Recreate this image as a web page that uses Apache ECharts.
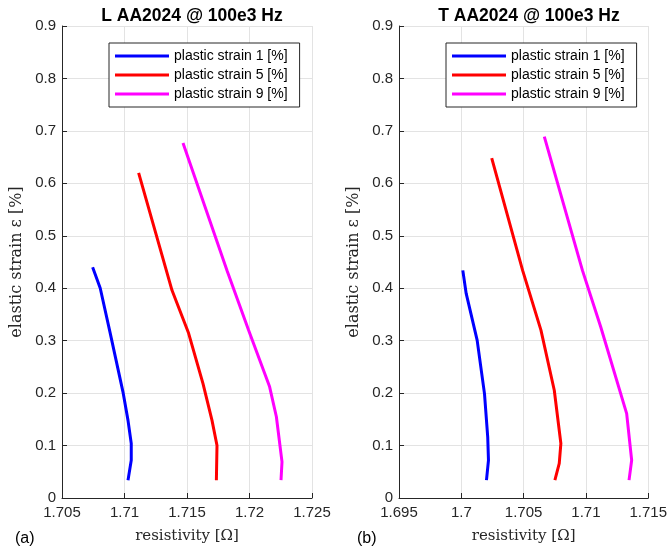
<!DOCTYPE html>
<html>
<head>
<meta charset="utf-8">
<script src="https://cdn.jsdelivr.net/npm/echarts@6/dist/echarts.min.js"></script>
<style>html,body{margin:0;padding:0;background:#fff}#c{width:670px;height:554px}</style>
</head>
<body>
<div id="c"></div>
<script>
const seriesNames = ['plastic strain 1 [%]', 'plastic strain 5 [%]', 'plastic strain 9 [%]'];
const titles = ['L AA2024 @ 100e3 Hz', 'T AA2024 @ 100e3 Hz'];
const panelTags = ['(a)', '(b)'];
const yTicks = [0, 0.9, 0.1];
const xRangeL = [1.705, 1.725];
const xRangeT = [1.695, 1.715];

// L panel
const L1_res = [1.71028, 1.71054, 1.71054, 1.71028, 1.70988, 1.70886, 1.70806, 1.70745];
const L1_eps = [0.034, 0.072, 0.104, 0.148, 0.202, 0.314, 0.400, 0.440];
const L5_res = [1.71735, 1.71740, 1.71700, 1.71628, 1.71513, 1.71380, 1.71113];
const L5_eps = [0.034, 0.100, 0.148, 0.218, 0.314, 0.396, 0.620];
const L9_res = [1.72252, 1.72260, 1.72215, 1.72161, 1.71993, 1.71820, 1.71468];
const L9_eps = [0.034, 0.069, 0.155, 0.212, 0.320, 0.434, 0.677];
// T panel
const T1_res = [1.70202, 1.70218, 1.70212, 1.70186, 1.70127, 1.70039, 1.70012];
const T1_eps = [0.034, 0.072, 0.116, 0.199, 0.301, 0.390, 0.434];
const T5_res = [1.70751, 1.70786, 1.70799, 1.70746, 1.70639, 1.70492, 1.70244];
const T5_eps = [0.034, 0.066, 0.104, 0.2055, 0.320, 0.434, 0.648];
const T9_res = [1.71346, 1.71367, 1.71327, 1.71119, 1.70972, 1.70666];
const T9_eps = [0.034, 0.072, 0.161, 0.326, 0.434, 0.689];

const colors = ['#0000ff', '#ff0000', '#ff00ff'];
const zip = (a, b) => a.map((v, i) => [v, b[i]]);
const panels = [
  [zip(L1_res, L1_eps), zip(L5_res, L5_eps), zip(L9_res, L9_eps)],
  [zip(T1_res, T1_eps), zip(T5_res, T5_eps), zip(T9_res, T9_eps)]
];
const gridLefts = [62, 399];
const gridW = 250, gridTop = 26, gridH = 472;
const tickCol = '#262626';
const sans = '"Liberation Sans", Arial, sans-serif';
const serif = '"DejaVu Serif", serif';

const grid = [], xAxis = [], yAxis = [], series = [], title = [], legend = [], graphic = [];
[xRangeL, xRangeT].forEach((rng, p) => {
  grid.push({left: gridLefts[p], top: gridTop, width: gridW, height: gridH, containLabel: false});
  xAxis.push({
    type: 'value', gridIndex: p, min: rng[0], max: rng[1], interval: 0.005,
    name: 'resistivity [Ω]', nameLocation: 'middle', nameGap: 31,
    nameTextStyle: {fontFamily: serif, fontSize: 15, color: tickCol},
    axisLine: {show: true, lineStyle: {color: tickCol, width: 1}},
    axisTick: {show: true, inside: true, length: 5, lineStyle: {color: tickCol}},
    axisLabel: {fontFamily: sans, fontSize: 15, color: tickCol, margin: 7,
      formatter: v => String(parseFloat(v.toFixed(3)))},
    splitLine: {show: true, lineStyle: {color: '#e3e3e3', width: 1}}
  });
  yAxis.push({
    type: 'value', gridIndex: p, min: yTicks[0], max: yTicks[1], interval: yTicks[2],
    name: 'elastic strain ε [%]', nameLocation: 'middle', nameGap: 37,
    nameTextStyle: {fontFamily: serif, fontSize: 16, color: tickCol},
    axisLine: {show: true, lineStyle: {color: tickCol, width: 1}},
    axisTick: {show: true, inside: true, length: 5, lineStyle: {color: tickCol}},
    axisLabel: {fontFamily: sans, fontSize: 15, color: tickCol, margin: 6,
      formatter: v => String(parseFloat(v.toFixed(2)))},
    splitLine: {show: true, lineStyle: {color: '#e3e3e3', width: 1}}
  });
  title.push({
    text: titles[p], left: gridLefts[p] + gridW / 2, top: 2, textAlign: 'center',
    textStyle: {fontFamily: sans, fontSize: 17.5, fontWeight: 'bold', color: '#000'}
  });
  legend.push({
    data: seriesNames, orient: 'vertical', left: gridLefts[p] + 47, top: 43,
    icon: 'rect', itemWidth: 54, itemHeight: 3, itemGap: 5,
    backgroundColor: '#fff', borderColor: '#262626', borderWidth: 1,
    padding: [6, 12, 6, 6],
    textStyle: {fontFamily: sans, fontSize: 14, color: '#000', padding: [0, 0, 0, 0]}
  });
  graphic.push({type: 'text', left: 15 + p * 342, top: 531,
    style: {text: panelTags[p], font: '16px ' + sans, fill: '#000'}});
  panels[p].forEach((d, i) => {
    series.push({
      type: 'line', name: seriesNames[i], xAxisIndex: p, yAxisIndex: p, data: d,
      showSymbol: false, symbol: 'none', smooth: false, animation: false,
      lineStyle: {color: colors[i], width: 3, cap: 'butt'}, itemStyle: {color: colors[i]}
    });
  });
});

const chart = echarts.init(document.getElementById('c'));
chart.setOption({animation: false, grid, xAxis, yAxis, series, title, legend, graphic});
</script>
</body>
</html>
